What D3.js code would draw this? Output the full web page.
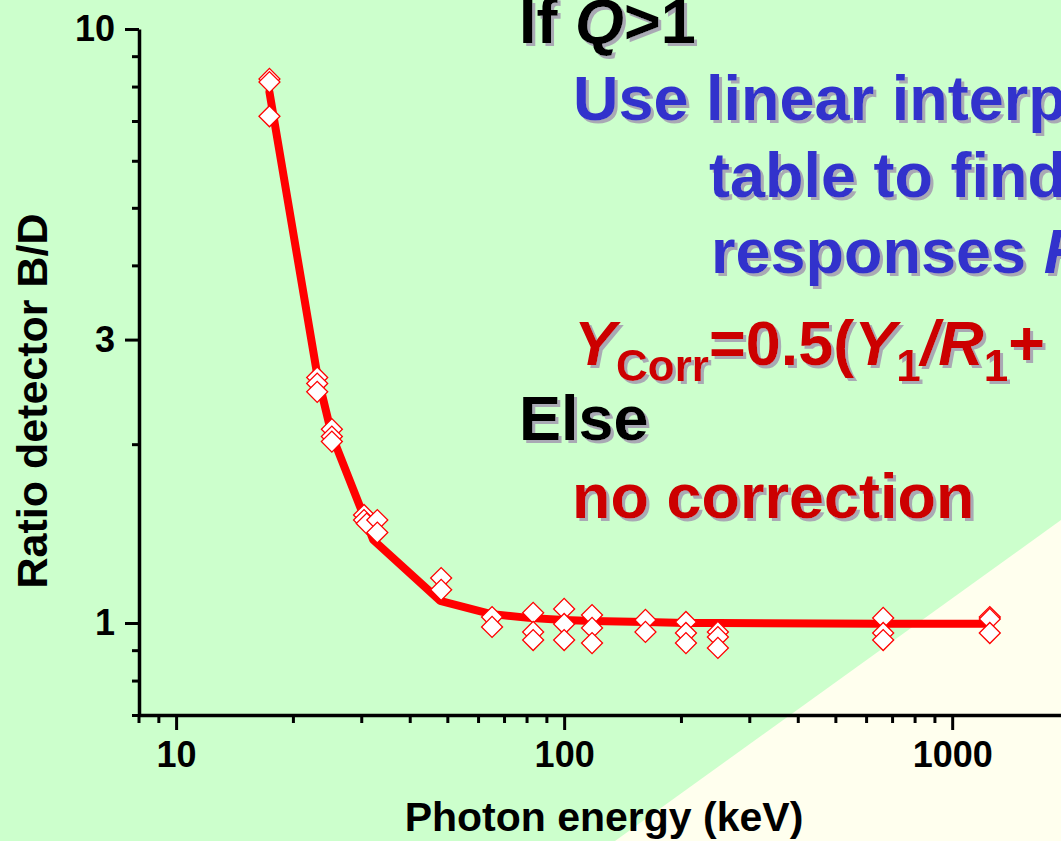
<!DOCTYPE html>
<html>
<head>
<meta charset="utf-8">
<script src="https://cdn.jsdelivr.net/npm/d3@7/dist/d3.min.js"></script>
<style>
  html, body { margin: 0; padding: 0; overflow: hidden; background: #ccffcc; }
  svg { display: block; font-family: "Liberation Sans", Arial, Helvetica, sans-serif; font-weight: bold; }
</style>
</head>
<body>
<svg id="chart" width="1061" height="841"></svg>
<script>
// ---- data ----
const pointEnergy = [17.4, 17.4, 17.4,
  23.1, 23.1, 23.1,
  25.2, 25.2, 25.2,
  30.5, 30.5, 31.0, 33.0, 33.0,
  48.2, 48.2,
  65.2, 65.2,
  83.2, 83.2, 83.2,
  100, 100, 100,
  118, 118, 118,
  162, 162,
  206, 206, 206,
  249, 249, 249,
  664, 664, 664,
  1250, 1250, 1250];
const pointRatio = [8.24, 8.14, 7.13,
  2.59, 2.53, 2.45,
  2.12, 2.06, 2.02,
  1.52, 1.49, 1.47, 1.49, 1.42,
  1.19, 1.137,
  1.023, 0.985,
  1.04, 0.966, 0.936,
  1.056, 0.996, 0.936,
  1.031, 0.981, 0.925,
  1.012, 0.966,
  1.004, 0.962, 0.925,
  0.966, 0.947, 0.908,
  1.02, 0.962, 0.936,
  1.023, 1.016, 0.962];

const curveEnergy = [17.4, 23.1, 25.2, 32.2, 47.9, 64.5, 81, 100, 118, 162, 206, 249, 664, 1250];
const curveRatio  = [7.83, 2.62, 2.07, 1.38, 1.09, 1.036, 1.02, 1.012, 1.008, 1.004, 1.0, 1.0, 0.997, 0.997];

const xTickValues = [8, 9, 10, 20, 30, 40, 50, 60, 70, 80, 90, 100, 200, 300, 400, 500, 600, 700, 800, 900, 1000];
const xTickLabels = {10: "10", 100: "100", 1000: "1000"};
const yTickValues = [0.7, 0.8, 0.9, 1, 2, 3, 4, 5, 6, 7, 8, 9, 10];
const yTickLabels = {1: "1", 3: "3", 10: "10"};

const xTitle = "Photon energy (keV)";
const yTitle = "Ratio detector B/D";

// ---- drawing ----
const svg = d3.select("#chart");
const W = 1061, H = 841;

const defs = svg.append("defs");
const f = defs.append("filter").attr("id", "shadow")
  .attr("x", "-5%").attr("y", "-20%").attr("width", "115%").attr("height", "150%");
f.append("feDropShadow").attr("dx", 3).attr("dy", 3).attr("stdDeviation", 0.6)
  .attr("flood-color", "#a9a9b4").attr("flood-opacity", 1);

// background
svg.append("rect").attr("width", W).attr("height", H).attr("fill", "#ccffcc");
svg.append("polygon").attr("points", `615,${H} ${W},520 ${W},${H}`).attr("fill", "#ffffee");

const x = d3.scaleLog().domain([8, 2000]).range([138.5, 1069]);
const y = d3.scaleLog().domain([0.7, 10]).range([715, 29]);

// axes
const xMajor = new Set([10, 100, 1000]);
const yMajor = new Set([1, 3, 10]);

const xAxis = d3.axisBottom(x).tickValues(xTickValues)
  .tickFormat(d => xTickLabels[d] || "")
  .tickSizeInner(15).tickSizeOuter(0).tickPadding(11);
const gx = svg.append("g").attr("transform", "translate(0,715)").call(xAxis);
gx.select(".domain").attr("stroke", "#000").attr("stroke-width", 3.5);
gx.selectAll(".tick line").attr("stroke", "#000").attr("stroke-width", 3)
  .attr("y2", d => xMajor.has(d) ? 15 : 8);
gx.selectAll(".tick text").attr("fill", "#000").attr("font-size", 36)
  .attr("font-weight", "bold").attr("font-family", "Liberation Sans, Arial, sans-serif");

const yAxis = d3.axisLeft(y).tickValues(yTickValues)
  .tickFormat(d => yTickLabels[d] || "")
  .tickSizeInner(14).tickSizeOuter(0).tickPadding(10);
const gy = svg.append("g").attr("transform", "translate(139,0)").call(yAxis);
gy.select(".domain").attr("stroke", "#000").attr("stroke-width", 3.5);
gy.selectAll(".tick line").attr("stroke", "#000").attr("stroke-width", 3)
  .attr("x2", d => yMajor.has(d) ? -14 : -7);
gy.selectAll(".tick text").attr("fill", "#000").attr("font-size", 36)
  .attr("font-weight", "bold").attr("font-family", "Liberation Sans, Arial, sans-serif");

// axis titles
svg.append("text").attr("x", 604).attr("y", 831).attr("text-anchor", "middle")
  .attr("font-size", 41).attr("fill", "#000").text(xTitle);
svg.append("text").attr("transform", "translate(47,401) rotate(-90)").attr("text-anchor", "middle")
  .attr("font-size", 43).attr("fill", "#000").text(yTitle);

// curve
const curveData = curveEnergy.map((e, i) => [e, curveRatio[i]]);
svg.append("path").datum(curveData)
  .attr("d", d3.line().x(d => x(d[0])).y(d => y(d[1])))
  .attr("fill", "none").attr("stroke", "#ff0000").attr("stroke-width", 8)
  .attr("stroke-linejoin", "round").attr("stroke-linecap", "round");

// points
const pts = pointEnergy.map((e, i) => [e, pointRatio[i]]);
const diamond = d3.symbol().type(d3.symbolSquare).size(220);
svg.append("g").selectAll("path").data(pts).join("path")
  .attr("transform", d => `translate(${x(d[0])},${y(d[1])}) rotate(45)`)
  .attr("d", diamond)
  .attr("fill", "#ffffff").attr("stroke", "#ff0000").attr("stroke-width", 1.3);

// annotation text
const notes = svg.append("g").attr("font-size", 63).attr("filter", "url(#shadow)");

const t1 = notes.append("text").attr("x", 519).attr("y", 43).attr("fill", "#000");
t1.append("tspan").text("If ");
t1.append("tspan").attr("font-style", "italic").text("Q");
t1.append("tspan").text(">1");

notes.append("text").attr("x", 573).attr("y", 120).attr("fill", "#3333cc").text("Use linear interpolation in");
notes.append("text").attr("x", 709).attr("y", 197).attr("fill", "#3333cc").text("table to find the");
const t4 = notes.append("text").attr("x", 711).attr("y", 273).attr("fill", "#3333cc");
t4.append("tspan").text("responses ");
t4.append("tspan").attr("font-style", "italic").text("R");
t4.append("tspan").attr("font-size", 44).attr("dy", 14).text("1");

const t5 = notes.append("text").attr("x", 574).attr("y", 365).attr("fill", "#cc0000");
t5.append("tspan").attr("font-style", "italic").text("Y");
t5.append("tspan").attr("font-size", 44).attr("dy", 16).text("Corr");
t5.append("tspan").attr("dy", -16).text("=0.5(");
t5.append("tspan").attr("font-style", "italic").text("Y");
t5.append("tspan").attr("font-size", 44).attr("dy", 16).text("1");
t5.append("tspan").attr("dy", -16).attr("font-style", "italic").text("/R");
t5.append("tspan").attr("font-size", 44).attr("dy", 16).text("1");
t5.append("tspan").attr("dy", -16).text("+ ");
t5.append("tspan").attr("font-style", "italic").text("Y");
t5.append("tspan").attr("font-size", 44).attr("dy", 16).text("2");
t5.append("tspan").attr("dy", -16).attr("font-style", "italic").text("/R");
t5.append("tspan").attr("font-size", 44).attr("dy", 16).text("2");
t5.append("tspan").attr("dy", -16).text(")");

notes.append("text").attr("x", 519).attr("y", 440).attr("fill", "#000").text("Else");
notes.append("text").attr("x", 572).attr("y", 518).attr("fill", "#cc0000").text("no correction");
</script>
</body>
</html>
